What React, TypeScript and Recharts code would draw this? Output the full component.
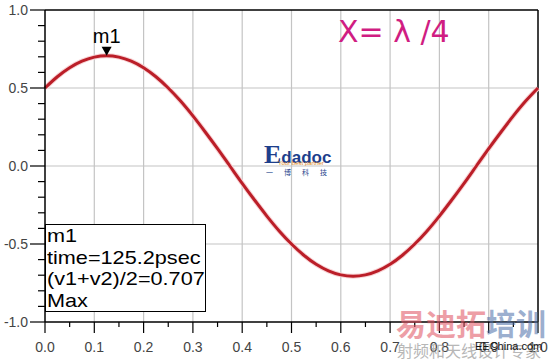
import React from 'react'
import { LineChart, Line, XAxis, YAxis, ReferenceLine, ReferenceDot } from 'recharts'

const timeNs = [
    0, 0.025, 0.05, 0.075, 0.1, 0.125, 0.15, 0.175, 0.2, 0.225, 0.25, 0.275, 0.3, 0.325, 0.35, 0.375, 0.4, 0.425,
    0.45, 0.475, 0.5, 0.525, 0.55, 0.575, 0.6, 0.625, 0.65, 0.675, 0.7, 0.725, 0.75, 0.775, 0.8, 0.825, 0.85, 0.875,
    0.9, 0.925, 0.95, 0.975, 1.0,
]
const avgVolt = [
    0.5, 0.572, 0.63, 0.672, 0.698, 0.707, 0.698, 0.672, 0.63, 0.572, 0.5, 0.416, 0.321, 0.218, 0.111, 0, -0.111,
    -0.218, -0.321, -0.416, -0.5, -0.572, -0.63, -0.672, -0.698, -0.707, -0.698, -0.672, -0.63, -0.572, -0.5, -0.416,
    -0.321, -0.218, -0.111, 0, 0.111, 0.218, 0.321, 0.416, 0.5,
]
const xTicks = [0, 0.05, 0.1, 0.15, 0.2, 0.25, 0.3, 0.35, 0.4, 0.45, 0.5, 0.55, 0.6, 0.65, 0.7, 0.75, 0.8, 0.85, 0.9, 0.95, 1.0]
const yTicks = [-1, -0.9, -0.8, -0.7, -0.6, -0.5, -0.4, -0.3, -0.2, -0.1, 0, 0.1, 0.2, 0.3, 0.4, 0.5, 0.6, 0.7, 0.8, 0.9, 1.0]
const xGrid = [0.1, 0.2, 0.3, 0.4, 0.5, 0.6, 0.7, 0.8, 0.9]
const yGrid = [-0.5, 0, 0.5]
const marker = { name: 'm1', x: 0.125, y: 0.707 }
const markerLines = ['m1', 'time=125.2psec', '(v1+v2)/2=0.707', 'Max']

const data = timeNs.map((t, i) => ({ t, v: avgVolt[i] }))

// labelled tick when value is a multiple of the step
const onStep = (v: number, step: number) => Math.abs(v / step - Math.round(v / step)) < 1e-6

const YTick = (props: any) => {
    const { x, y, payload } = props
    const v = payload.value
    const major = onStep(v, 0.5)
    return (
        <g>
            <line x1={x} x2={x - (major ? 15 : 7)} y1={y} y2={y} stroke={'#000'} strokeWidth={1.2} />
            {major && (
                <text x={x - 17} y={y + 5} textAnchor={'end'} fontSize={14} fill={'#444'} fontFamily={'Liberation Sans, Arial'}>
                    {v.toFixed(1)}
                </text>
            )}
        </g>
    )
}

const XTick = (props: any) => {
    const { x, y, payload } = props
    const v = payload.value
    const major = onStep(v, 0.1)
    return (
        <g>
            <line x1={x} x2={x} y1={y} y2={y + (major ? 11 : 5)} stroke={'#000'} strokeWidth={1.2} />
            {major && (
                <text x={x} y={y + 30} textAnchor={'middle'} fontSize={14} fill={'#444'} fontFamily={'Liberation Sans, Arial'}>
                    {v.toFixed(1)}
                </text>
            )}
        </g>
    )
}

const MarkerShape = (props: any) => {
    const { cx, cy } = props
    return (
        <g>
            <path d={`M${cx - 5},${cy - 9} L${cx + 5},${cy - 9} L${cx},${cy} Z`} fill={'#000'} />
            <text x={cx} y={cy - 13} textAnchor={'middle'} fontSize={20} fill={'#000'} fontFamily={'Liberation Sans, Arial'}>
                {marker.name}
            </text>
        </g>
    )
}

const abs = (style: React.CSSProperties): React.CSSProperties => ({ position: 'absolute', margin: 0, whiteSpace: 'nowrap', ...style })

export default function App() {
    return (
        <div style={{ position: 'absolute', left: 0, top: 0, width: 550, height: 361, background: '#fff', overflow: 'hidden' }}>
            <LineChart width={550} height={361} data={data} margin={{ top: 10, right: 12, left: 0, bottom: 0 }}>
                <XAxis
                    dataKey={'t'}
                    type={'number'}
                    domain={[0, 1]}
                    ticks={xTicks}
                    interval={0}
                    tickSize={0}
                    tickMargin={0}
                    height={39}
                    axisLine={{ stroke: '#000', strokeWidth: 1.5 }}
                    tick={<XTick />}
                />
                <YAxis
                    type={'number'}
                    domain={[-1, 1]}
                    ticks={yTicks}
                    interval={0}
                    tickSize={0}
                    tickMargin={0}
                    width={45}
                    axisLine={{ stroke: '#000', strokeWidth: 1.5 }}
                    tick={<YTick />}
                />
                {xGrid.map(g => (
                    <ReferenceLine key={'x' + g} x={g} stroke={'#c4c4c4'} strokeWidth={1.2} />
                ))}
                {yGrid.map(g => (
                    <ReferenceLine key={'y' + g} y={g} stroke={'#c4c4c4'} strokeWidth={1.2} />
                ))}
                <ReferenceLine y={1} stroke={'#000'} strokeWidth={1.5} />
                <ReferenceLine x={1} stroke={'#000'} strokeWidth={1.5} />
                <Line type={'monotone'} dataKey={'v'} stroke={'#f8d4d6'} strokeWidth={5} dot={false} isAnimationActive={false} />
                <Line type={'monotone'} dataKey={'v'} stroke={'#bb1e28'} strokeWidth={3} dot={false} isAnimationActive={false} />
                <ReferenceDot x={marker.x} y={marker.y} r={0} shape={<MarkerShape />} />
            </LineChart>

            <div
                style={abs({
                    left: 45,
                    top: 224,
                    width: 161,
                    height: 88,
                    border: '1.5px solid #000',
                    background: '#fff',
                    boxSizing: 'border-box',
                    fontFamily: 'Liberation Sans, Arial',
                    fontSize: 19,
                    lineHeight: '21.5px',
                    paddingLeft: 1,
                    color: '#000',
                })}
            >
                {markerLines.map(l => (
                    <div key={l} style={{ transform: 'scaleX(1.14)', transformOrigin: 'left' }}>
                        {l}
                    </div>
                ))}
            </div>

            <div style={abs({ left: 338, top: 14, fontFamily: 'DejaVu Sans', fontSize: 30, color: '#d01d82' })}>X= λ /4</div>

            <div style={abs({ left: 264, top: 140, fontFamily: 'Liberation Serif', fontWeight: 'bold', color: '#1d3f8c' })}>
                <span style={{ fontSize: 26 }}>E</span>
                <span style={{ fontSize: 17, fontFamily: 'Liberation Sans' }}>dadoc</span>
            </div>
            <div style={abs({ left: 278, top: 160, fontSize: 6, fontFamily: 'Liberation Sans', color: '#e08a1a' })}>Your best partner</div>
            <div style={abs({ left: 266, top: 167, fontSize: 7, letterSpacing: 11, fontFamily: 'Noto Sans CJK SC', color: '#1d3f8c' })}>
                一博科技
            </div>

            <div
                style={abs({
                    left: 396,
                    top: 304,
                    fontSize: 30,
                    fontWeight: 'bold',
                    fontFamily: 'Noto Sans CJK SC',
                    opacity: 0.55,
                    lineHeight: '36px',
                })}
            >
                <span style={{ color: '#e0505f' }}>易迪拓</span>
                <span style={{ color: '#4c6fa8' }}>培训</span>
            </div>
            <div style={abs({ left: 397, top: 341, fontSize: 16, fontFamily: 'Noto Sans CJK SC', color: '#999', opacity: 0.7, lineHeight: '18px' })}>
                射频和天线设计专家
            </div>
            <div style={abs({ left: 475, top: 340, fontSize: 11, fontFamily: 'Liberation Sans', color: '#111' })}>EEChina.com</div>
        </div>
    )
}
